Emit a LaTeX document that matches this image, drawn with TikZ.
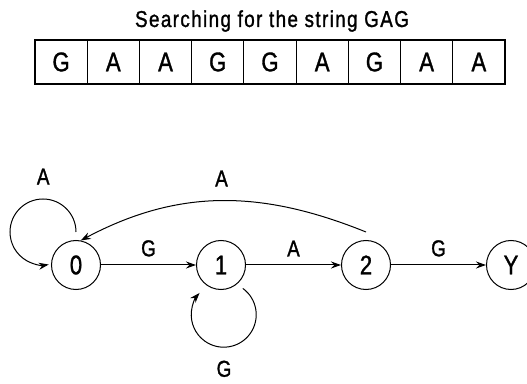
\documentclass[tikz,border=0pt]{standalone}
\usepackage{fontspec}
\setmainfont{Liberation Sans}[FakeStretch=0.82, LetterSpace=6, FakeBold=1.2]
\usetikzlibrary{arrows.meta}

\tikzset{
    state/.style={draw, circle, minimum size=49pt, inner sep=0pt, font=\fontsize{27}{27}\selectfont},
    cell/.style={draw, line width=1.2pt, minimum width=52.22pt, minimum height=44pt, inner sep=0pt, font=\fontsize{27}{27}\selectfont},
    lbl/.style={inner sep=0pt, font=\fontsize{23}{23}\selectfont},
}

\begin{document}
\begin{tikzpicture}[x=1pt, y=1pt, line width=1pt, >={Stealth[length=10pt,width=7pt]}]
    \useasboundingbox (0,0) rectangle (527,383);

    \node[lbl, anchor=base] (title) at (272,356) {Searching for the string GAG};

    \foreach \ch [count=\i] in {G,A,A,G,G,A,G,A,A}
        \node[cell] (c\i) at ({35+52.22*(\i-0.5)},321) {\ch};

    \node[state] (s0) at (76,118) {0};
    \node[state] (s1) at (221,118) {1};
    \node[state] (s2) at (366,118) {2};
    \node[state] (sY) at (511,118) {Y};

    \draw[->] (s0) -- node[lbl, above=8pt] (e01) {G} (s1);
    \draw[->] (s1) -- node[lbl, above=8pt] (e12) {A} (s2);
    \draw[->] (s2) -- node[lbl, above=8pt] (e2Y) {G} (sY);

    % self loops
    \draw[->] ([yshift=8pt]s0.north) arc[start angle=0, end angle=280, radius=33]
        node[lbl, pos=0.32, above=14pt] (l0) {A};
    \draw[->] ([shift={(-47:7pt)}]s1.-47) arc[start angle=54, end angle=-222, radius=32.5]
        node[lbl, pos=0.52, below=13pt] (l1) {G};

    % back to the start
    \draw[->] ([yshift=8pt]s2.north) to[out=158, in=28] node[lbl, above=14pt] (l2) {A} (s0.79);
\end{tikzpicture}
\end{document}
